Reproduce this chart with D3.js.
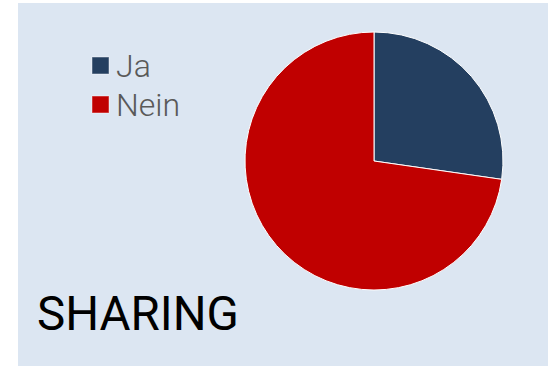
<!DOCTYPE html>
<html>
<head>
<meta charset="utf-8">
<script src="https://cdn.jsdelivr.net/npm/d3@7"></script>
<style>
  html, body { margin: 0; padding: 0; background: #ffffff; }
  svg { display: block; }
</style>
</head>
<body>
<svg id="chart" width="557" height="366"></svg>
<script>
// Survey answers for the "Sharing" question
const categories = ["Ja", "Nein"];
const values = [3, 8];
const colors = ["#243F60", "#C00000"];
const title = "SHARING";

const svg = d3.select("#chart");

// panel background
svg.append("rect")
  .attr("x", 18).attr("y", 3)
  .attr("width", 530).attr("height", 363)
  .attr("fill", "#DCE6F2");

const color = d3.scaleOrdinal().domain(categories).range(colors);

const pie = d3.pie().sort(null).value(d => d.value);
const arc = d3.arc().innerRadius(0).outerRadius(129);

const data = categories.map((c, i) => ({ name: c, value: values[i] }));

const g = svg.append("g").attr("transform", "translate(374,161)");
g.selectAll("path")
  .data(pie(data))
  .join("path")
  .attr("d", arc)
  .attr("fill", d => color(d.data.name))
  .attr("stroke", "#ffffff")
  .attr("stroke-width", 1);

// legend
const legend = svg.append("g").attr("transform", "translate(92,57)");
const item = legend.selectAll("g")
  .data(categories)
  .join("g")
  .attr("transform", (d, i) => `translate(0,${i * 39})`);
item.append("rect")
  .attr("width", 17).attr("height", 17)
  .attr("fill", d => color(d))
  .attr("stroke", "rgba(255,255,255,0.45)")
  .attr("stroke-width", 1);
item.append("text")
  .attr("x", 24).attr("y", 20)
  .attr("font-family", "Roboto, sans-serif")
  .attr("font-weight", 300)
  .attr("font-size", 32)
  .attr("fill", "#595959")
  .text(d => d);

// title
svg.append("text")
  .attr("x", 37).attr("y", 330)
  .attr("font-family", "Roboto, sans-serif")
  .attr("font-size", 47.5)
  .attr("fill", "#000000")
  .text(title);
</script>
</body>
</html>
